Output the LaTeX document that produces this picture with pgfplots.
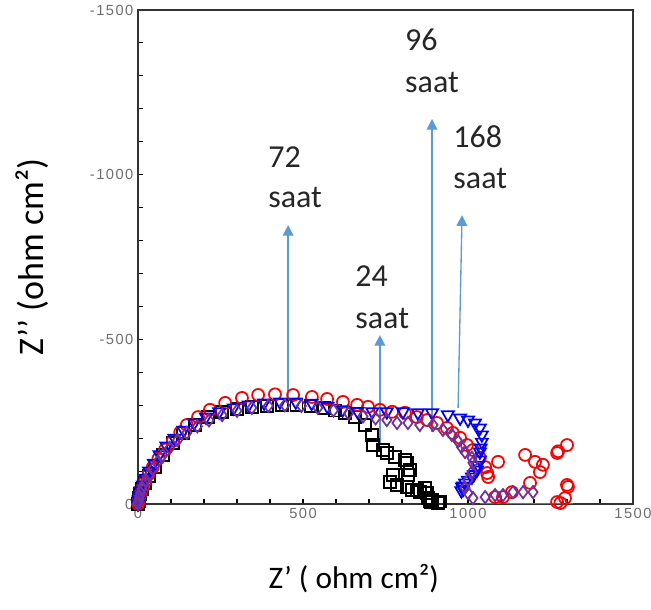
\documentclass[border=0pt]{standalone}
\usepackage{pgfplots}
\pgfplotsset{compat=1.18}
\usepackage{fontspec}
\setmainfont{Carlito}
\newfontfamily\tickfont[LetterSpace=10]{Liberation Sans}
\usetikzlibrary{arrows.meta}
\definecolor{arrowblue}{RGB}{91,155,213}
\definecolor{dpurple}{RGB}{112,48,160}
\definecolor{tickgrey}{RGB}{110,110,110}
\begin{document}
\begin{tikzpicture}
\begin{axis}[name=ax, scale only axis, width=371.25pt, height=370.5pt,
  xmin=0, xmax=1500, ymin=-1500, ymax=0, y dir=reverse,
  xtick={0,500,1000,1500}, ytick={-1500,-1000,-500,0},
  minor xtick={100,200,...,1400}, minor ytick={-1400,-1300,...,-100},
  xtick pos=left, ytick pos=left,
  tick align=inside, major tick length=3.5pt, minor tick length=3.5pt,
  tick style={black, line width=0.8pt},
  axis line style={line width=1pt, black!80},
  ticklabel style={font=\tickfont\fontsize{11}{13}\selectfont, text=tickgrey},
  /pgf/number format/assume math mode=true, /pgf/number format/1000 sep={},
  xlabel={Z’ ( ohm cm²)}, ylabel={Z’’ (ohm cm²)},
  xlabel style={font=\fontsize{23.5}{27}\selectfont, at={(axis description cs:0.436,-0.15)}, anchor=center},
  ylabel style={font=\fontsize{27}{31}\selectfont, at={(axis description cs:-0.214,0.5)}, anchor=center},
  clip=false]
% 24 saat
\addplot[only marks, mark=square, mark size=4.5pt, line width=1.3pt, black] coordinates {
(0,0) (2,-8) (4,-18) (7,-30) (12,-45) (21,-64) (34,-86) (52,-112) (76,-149) (106,-185)
(136,-216) (173,-240) (212,-264) (255,-279) (300,-288) (345,-294) (391,-298) (436,-301)
(480,-301) (525,-297) (565,-291) (597,-284) (627,-277) (658,-264) (688,-240) (709,-210)
(712,-179) (742,-164) (754,-155) (779,-143) (809,-134) (815,-125) (824,-103) (818,-88)
(773,-88) (764,-67) (785,-58) (815,-52) (830,-43) (845,-43) (854,-36) (870,-49) (876,-33)
(879,-18) (883,-10) (887,-6) (891,-12) (909,-4) (915,-8)};
% 72 saat
\addplot[only marks, mark=o, mark size=4.5pt, line width=1.3pt, red] coordinates {
(0,0) (2,-10) (5,-22) (9,-36) (15,-52) (22,-70) (32,-90) (45,-112) (62,-138) (82,-165)
(106,-192) (128,-218) (148,-240) (182,-264) (218,-286) (264,-307) (315,-322) (364,-331)
(415,-333) (470,-331) (527,-325) (573,-319) (621,-310) (664,-301) (697,-295) (733,-286)
(770,-280) (809,-277) (845,-264) (876,-255) (906,-246) (936,-231) (954,-216) (976,-201)
(997,-179) (1015,-164) (1036,-140) (1052,-112) (1058,-94) (1061,-82) (1091,-128)
(1082,-21) (1106,-21) (1133,-36) (1173,-149) (1188,-64) (1203,-128) (1218,-97) (1227,-119)
(1270,-155) (1273,-160) (1300,-179) (1300,-58) (1303,-52) (1294,-18) (1270,-6) (1280,-3)};
% 96 saat
\addplot[only marks, mark=triangle, mark size=5.2pt, line width=1.3pt, blue,
  every mark/.append style={rotate=180}] coordinates {
(0,0) (2,-12) (5,-25) (9,-40) (15,-58) (23,-78) (34,-100) (48,-124) (65,-150) (86,-176)
(110,-200) (138,-224) (170,-246) (206,-264) (246,-280) (290,-292) (335,-301) (382,-307)
(430,-310) (478,-310) (526,-306) (574,-296) (620,-286) (665,-281) (710,-280) (754,-280)
(803,-280) (848,-277) (891,-277) (939,-271) (976,-261) (1000,-255) (1021,-246) (1036,-231)
(1042,-210) (1042,-188) (1038,-170) (1036,-158) (1036,-134) (1030,-118) (1027,-103)
(1018,-90) (1012,-82) (1000,-72) (991,-64) (985,-55) (982,-52) (985,-45) (980,-40)};
% 168 saat
\addplot[only marks, mark=diamond, mark size=4.6pt, line width=1.3pt, dpurple] coordinates {
(0,0) (1,-6) (3,-14) (5,-24) (8,-34) (12,-46) (17,-58) (24,-72) (33,-88) (44,-106)
(58,-126) (75,-148) (96,-170) (120,-194) (148,-216) (180,-236) (215,-254) (255,-270)
(300,-283) (345,-292) (395,-298) (445,-300) (495,-298) (545,-292) (592,-284) (638,-275)
(682,-266) (720,-260) (754,-255) (785,-246) (818,-246) (854,-240) (894,-240) (924,-225)
(951,-210) (970,-190) (980,-173) (991,-158) (1012,-140) (1015,-125) (1012,-97) (1000,-73)
(991,-49) (1000,-33) (1015,-18) (1052,-21) (1082,-27) (1106,-27) (1136,-36) (1167,-36)
(1197,-36)};
\addplot[no marks, line width=1.2pt, dpurple!80] coordinates {(1036,-2) (1318,-2)};
% annotations
\draw[arrowblue, line width=1pt, -{Triangle[width=8pt,length=8pt]}] (axis cs:455,-322) -- (axis cs:455,-847);
\draw[arrowblue, line width=1pt, -{Triangle[width=8pt,length=8pt]}] (axis cs:733,-179) -- (axis cs:733,-513);
\draw[arrowblue, line width=1pt, -{Triangle[width=8pt,length=8pt]}] (axis cs:891,-219) -- (axis cs:891,-1169);
\draw[arrowblue, line width=1pt, -{Triangle[width=8pt,length=8pt]}] (axis cs:970,-292) -- (axis cs:982,-877);
\tikzset{ann/.style={anchor=base west, inner sep=0pt, font=\fontsize{24}{28}\selectfont, text=black!85}}
\node[ann] at (axis cs:394,-1023) {72};
\node[ann] at (axis cs:394,-899) {saat};
\node[ann] at (axis cs:658,-659) {24};
\node[ann] at (axis cs:658,-534) {saat};
\node[ann] at (axis cs:809,-1378) {96};
\node[ann] at (axis cs:809,-1251) {saat};
\node[ann] at (axis cs:955,-1081) {168};
\node[ann] at (axis cs:955,-959) {saat};
\end{axis}
\pgfresetboundingbox
\path (ax.south west) ++(-103.5pt,-79.5pt) rectangle ++(488.25pt,457.5pt);
\end{tikzpicture}
\end{document}
